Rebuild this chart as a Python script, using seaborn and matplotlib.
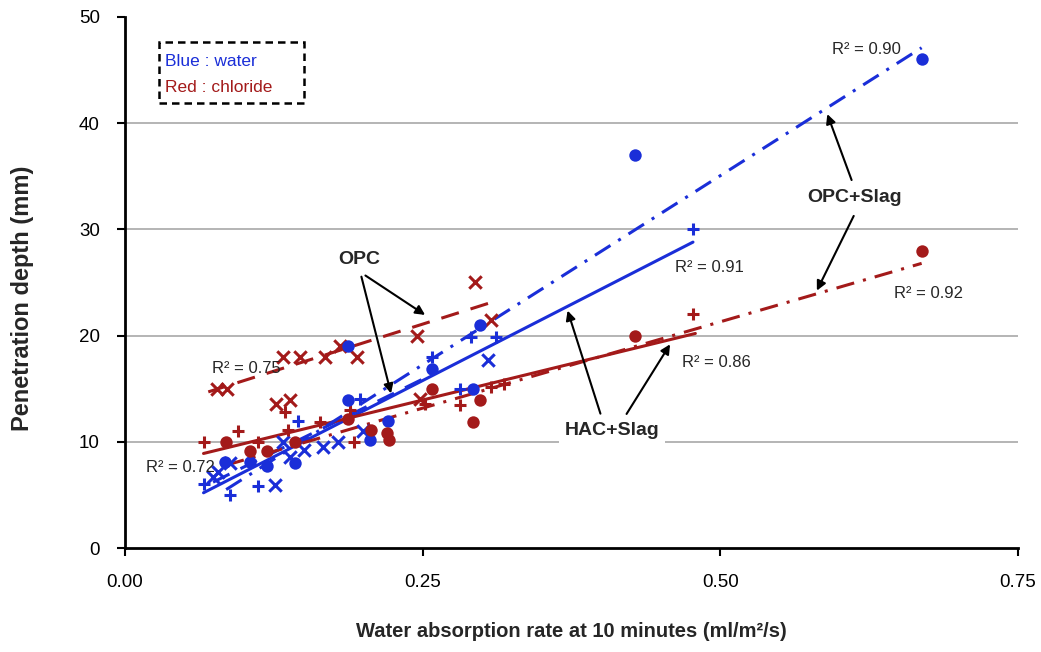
import pandas as pd
import seaborn as sns
import matplotlib.pyplot as plt
from matplotlib.patches import Rectangle

# Points (x = absorption rate, y = penetration depth)
opc_w_x = [0.074, 0.078, 0.088, 0.126, 0.133, 0.139, 0.150, 0.166, 0.179, 0.200, 0.305]
opc_w_y = [6.7, 7.2, 8.0, 5.9, 10.0, 8.6, 9.2, 9.5, 10.0, 11.0, 17.7]

opc_c_x = [0.077, 0.086, 0.127, 0.139, 0.133, 0.147, 0.168, 0.181, 0.195, 0.245, 0.294, 0.307, 0.248]
opc_c_y = [15.0, 15.0, 13.6, 13.9, 18.0, 18.0, 18.0, 19.0, 18.0, 20.0, 25.0, 21.5, 14.0]

hac_w_x = [0.066, 0.088, 0.112, 0.145, 0.197, 0.258, 0.281, 0.291, 0.312, 0.477]
hac_w_y = [6.0, 5.0, 5.8, 12.0, 14.0, 18.0, 15.0, 19.9, 19.9, 30.0]

hac_c_x = [0.066, 0.095, 0.112, 0.134, 0.137, 0.164, 0.189, 0.192, 0.252, 0.281, 0.307, 0.318, 0.477]
hac_c_y = [10.0, 11.0, 10.0, 12.8, 11.1, 11.9, 13.0, 10.0, 13.6, 13.5, 15.2, 15.4, 22.0]

opcs_w_x = [0.084, 0.105, 0.119, 0.143, 0.187, 0.187, 0.206, 0.221, 0.258, 0.292, 0.298, 0.428, 0.669]
opcs_w_y = [8.1, 8.1, 7.7, 8.0, 13.9, 19.0, 10.2, 12.0, 16.9, 15.0, 21.0, 37.0, 46.0]

opcs_c_x = [0.085, 0.105, 0.119, 0.143, 0.187, 0.207, 0.220, 0.222, 0.258, 0.292, 0.298, 0.428, 0.669]
opcs_c_y = [10.0, 9.1, 9.1, 10.0, 12.1, 11.1, 10.8, 10.2, 15.0, 11.9, 13.9, 20.0, 28.0]

# Trendline end points as drawn
trend_x = {'opc_w': [0.074, 0.25], 'opc_c': [0.07, 0.307], 'hac_w': [0.066, 0.477],
           'hac_c': [0.066, 0.479], 'opcs_w': [0.085, 0.669], 'opcs_c': [0.085, 0.669]}
trend_y = {'opc_w': [6.2, 15.9], 'opc_c': [14.7, 23.1], 'hac_w': [5.2, 28.8],
           'hac_c': [8.9, 20.2], 'opcs_w': [5.5, 47.1], 'opcs_c': [7.8, 26.8]}

BLUE = '#1a2ed8'
RED = '#a31a1a'

sns.set_theme(style="white")
plt.rcParams['font.family'] = ['Liberation Sans', 'DejaVu Sans']

fig = plt.figure(figsize=(10.41, 6.52), dpi=100)
ax = fig.add_axes([0.12, 0.1595, 0.858, 0.8145])

# Trend lines
lines = pd.concat([
    pd.DataFrame({'x': trend_x[k], 'y': trend_y[k], 'series': k}) for k in trend_x
])
palette = {'opc_w': BLUE, 'opc_c': RED, 'hac_w': BLUE, 'hac_c': RED, 'opcs_w': BLUE, 'opcs_c': RED}
dashes = {'opc_w': (6, 4), 'opc_c': (6, 4), 'hac_w': '', 'hac_c': '',
          'opcs_w': (6, 3, 1, 3), 'opcs_c': (6, 3, 1, 3)}
sns.lineplot(data=lines, x='x', y='y', hue='series', style='series', palette=palette,
             dashes=dashes, estimator=None, linewidth=2.2, legend=False, ax=ax, zorder=2)

# Markers
pts = [
    (opc_w_x, opc_w_y, BLUE, 'x'), (opc_c_x, opc_c_y, RED, 'x'),
    (hac_w_x, hac_w_y, BLUE, '+'), (hac_c_x, hac_c_y, RED, '+'),
]
for xs, ys, c, m in pts:
    sns.scatterplot(x=xs, y=ys, color=c, marker=m, s=80, linewidth=2.2, ax=ax, zorder=3)
for xs, ys, c in [(opcs_w_x, opcs_w_y, BLUE), (opcs_c_x, opcs_c_y, RED)]:
    sns.scatterplot(x=xs, y=ys, color=c, marker='o', s=80, linewidth=0, ax=ax, zorder=3)

# Axes formatting
ax.set_xlim(0, 0.75)
ax.set_ylim(0, 50)
ax.set_xticks([0, 0.25, 0.5, 0.75])
ax.set_xticklabels(['0.00', '0.25', '0.50', '0.75'])
ax.set_yticks([0, 10, 20, 30, 40, 50])
for yv in [10, 20, 30, 40]:
    ax.axhline(yv, color='#a8a8a8', lw=1.2, zorder=0)
ax.tick_params(axis='both', labelsize=13.5, direction='out', length=6, width=1.5,
               colors='black', bottom=True, left=True)
ax.tick_params(axis='x', pad=13)
ax.tick_params(axis='y', pad=12)
for s in ['top', 'right']:
    ax.spines[s].set_visible(False)
for s in ['left', 'bottom']:
    ax.spines[s].set_color('black')
    ax.spines[s].set_linewidth(2)

ax.set_xlabel('Water absorption rate at 10 minutes (ml/m²/s)', fontsize=14.5,
              fontweight='bold', labelpad=22)
ax.set_ylabel('Penetration depth (mm)', fontsize=17, fontweight='bold')
ax.yaxis.set_label_coords(-0.102, 0.47)

# Legend box
ax.add_patch(Rectangle((0.029, 41.9), 0.121, 5.7, fill=False, ls=(0, (3, 2)), lw=1.8,
                       edgecolor='black', zorder=4))
ax.text(0.034, 45.8, 'Blue : water', color=BLUE, fontsize=12.5, va='center')
ax.text(0.034, 43.4, 'Red : chloride', color=RED, fontsize=12.5, va='center')

# R² labels
r2 = [(0.102, 16.9, 'R² = 0.75'), (0.047, 7.6, 'R² = 0.72'), (0.623, 46.9, 'R² = 0.90'),
      (0.491, 26.4, 'R² = 0.91'), (0.497, 17.5, 'R² = 0.86'), (0.675, 24.0, 'R² = 0.92')]
for x, y, t in r2:
    ax.text(x, y, t, fontsize=12, ha='center', va='center', zorder=5)

arrow = dict(arrowstyle='-|>', color='black', lw=1.5, mutation_scale=14)
ax.text(0.197, 27.2, 'OPC', fontsize=14, fontweight='bold', ha='center', va='center')
ax.annotate('', xy=(0.254, 21.8), xytext=(0.200, 25.8), arrowprops=arrow)
ax.annotate('', xy=(0.224, 14.3), xytext=(0.198, 25.8), arrowprops=arrow)

ax.text(0.613, 33.0, 'OPC+Slag', fontsize=14, fontweight='bold', ha='center', va='center')
ax.annotate('', xy=(0.589, 41.1), xytext=(0.611, 34.4), arrowprops=arrow)
ax.annotate('', xy=(0.580, 24.0), xytext=(0.613, 31.5), arrowprops=arrow)

ax.text(0.409, 11.1, 'HAC+Slag', fontsize=14, fontweight='bold', ha='center', va='center',
        bbox=dict(facecolor='white', edgecolor='none', pad=4), zorder=5)
ax.annotate('', xy=(0.371, 22.6), xytext=(0.400, 12.4), arrowprops=arrow)
ax.annotate('', xy=(0.459, 19.4), xytext=(0.420, 12.4), arrowprops=arrow)

fig.savefig('out.png', dpi=100)
